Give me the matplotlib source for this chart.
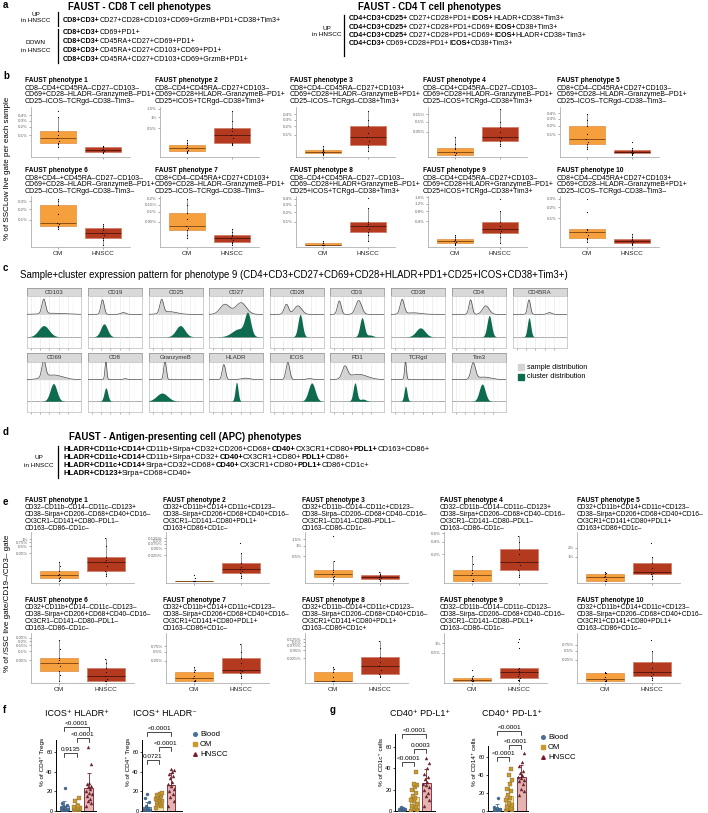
import numpy as np
import matplotlib
matplotlib.use('Agg')
import matplotlib.pyplot as plt
from matplotlib.lines import Line2D
from matplotlib.patches import Rectangle

plt.rcParams['font.family'] = ['Liberation Sans', 'DejaVu Sans']

W, H = 708, 813
fig = plt.figure(figsize=(W / 100, H / 100), dpi=100)
R = fig.canvas.get_renderer()

# ---------------- data ----------------
# panel a
cd8_up = ["*CD8+CD3+*CD27+CD28+CD103+CD69+GrzmB+PD1+CD38+Tim3+"]
cd8_down = ["*CD8+CD3+*CD69+PD1+",
            "*CD8+CD3+*CD45RA+CD27+CD69+PD1+",
            "*CD8+CD3+*CD45RA+CD27+CD103+CD69+PD1+",
            "*CD8+CD3+*CD45RA+CD27+CD103+CD69+GrzmB+PD1+"]
cd4_up = ["*CD4+CD3+CD25+*CD27+CD28+PD1+*ICOS+*HLADR+CD38+Tim3+",
          "*CD4+CD3+CD25+*CD27+CD28+PD1+CD69+*ICOS+*CD38+Tim3+",
          "*CD4+CD3+CD25+*CD27+CD28+PD1+CD69+*ICOS+*HLADR+CD38+Tim3+",
          "*CD4+CD3+*CD69+CD28+PD1+*ICOS+*CD38+Tim3+"]

# panel b
b_desc = [
    ["CD8–CD4+CD45RA–CD27–CD103–", "CD69+CD28–HLADR–GranzymeB–PD1+", "CD25–ICOS–TCRgd–CD38–Tim3–"],
    ["CD8–CD4+CD45RA–CD27+CD103–", "CD69+CD28+HLADR–GranzymeB–PD1+", "CD25+ICOS+TCRgd–CD38+Tim3+"],
    ["CD8+CD4–CD45RA–CD27+CD103+", "CD69+CD28+HLADR–GranzymeB+PD1+", "CD25–ICOS–TCRgd–CD38+Tim3+"],
    ["CD8–CD4+CD45RA–CD27–CD103–", "CD69+CD28+HLADR–GranzymeB–PD1+", "CD25–ICOS+TCRgd–CD38+Tim3+"],
    ["CD8+CD4–CD45RA+CD27+CD103–", "CD69+CD28–HLADR–GranzymeB–PD1+", "CD25–ICOS–TCRgd–CD38–Tim3–"],
    ["CD8+CD4–+CD45RA–CD27–CD103–", "CD69+CD28–HLADR–GranzymeB–PD1+", "CD25–ICOS–TCRgd–CD38–Tim3–"],
    ["CD8+CD4–CD45RA+CD27+CD103+", "CD69+CD28–HLADR–GranzymeB–PD1+", "CD25–ICOS–TCRgd–CD38–Tim3–"],
    ["CD8–CD4+CD45RA–CD27–CD103–", "CD69–CD28+HLADR+GranzymeB–PD1+", "CD25+ICOS+TCRgd–CD38+Tim3+"],
    ["CD8–CD4+CD45RA–CD27+CD103–", "CD69+CD28+HLADR+GranzymeB–PD1+", "CD25+ICOS+TCRgd–CD38+Tim3+"],
    ["CD8+CD4–CD45RA+CD27+CD103+", "CD69+CD28–HLADR–GranzymeB+PD1+", "CD25–ICOS–TCRgd–CD38–Tim3–"],
]
b_ticks = [[.1, .2, .3, .4], [.5, 1, 1.5], [.1, .2, .3, .4], [.05, .1, .15], [.1, .2, .3, .4],
           [.1, .2, .3], [.05, .1, .15, .2], [.1, .2, .3, .4], [.4, .8, 1.2, 1.6], [.1, .2, .3]]
b_top = [.58, 1.6, .55, .21, .53, .38, .22, .45, 1.7, .34]
b_om = [
    [.017, .03, .037, .05, .075, .1, .14, .36, .48],
    [.003, .008, .011, .02, .033, .05, .067, .1, .15],
    [0, .0005, .001, .002, .0023, .004, .0063, .01, .02],
    [0, 0, 0, .0005, .001, .003, .005, .012, .03],
    [.008, .015, .028, .04, .059, .1, .19, .28, .38],
    [.042, .05, .059, .07, .08, .15, .25, .3, .33],
    [.004, .01, .02, .028, .034, .06, .094, .15, .19],
    [0, 0, 0, 0, 0, 0, .0005, .001, .003],
    [0, .001, .003, .008, .013, .02, .03, .05, .065],
    [.0015, .005, .008, .015, .024, .03, .037, .15, .3],
]
b_hn = [
    [.001, .002, .003, .005, .007, .01, .018, .02, .022],
    [.067, .08, .096, .2, .27, .4, .52, .8, 1.35],
    [.004, .015, .025, .05, .082, .12, .197, .3, .47],
    [.0067, .012, .0176, .025, .03, .05, .07, .1, .19],
    [0, .0005, .001, .0015, .002, .004, .0057, .01, .039],
    [0, .004, .008, .015, .024, .035, .0475, .06, .07],
    [0, .0005, .001, .002, .004, .007, .01, .016, .023],
    [.003, .02, .034, .05, .066, .08, .1, .25, .41],
    [.003, .05, .1, .14, .18, .25, .36, .8, 1.5],
    [0, .0003, .0007, .0015, .0026, .004, .006, .01, .017],
]

# panel c  (peak location, height, width)
markers_row1 = ["CD103", "CD19", "CD25", "CD27", "CD28", "CD3", "CD38", "CD4", "CD45RA"]
markers_row2 = ["CD69", "CD8", "GranzymeB", "HLADR", "ICOS", "PD1", "TCRgd", "Tim3"]
sample_peaks = {
    "CD103": [(.35, .65, .05), (.6, .05, .3)],
    "CD19": [(.29, .65, .045), (.85, .08, .07)],
    "CD25": [(.24, .6, .05), (.45, .12, .2)],
    "CD27": [(.33, .45, .13), (.76, .52, .14)],
    "CD28": [(.34, .45, .06), (.65, .38, .1)],
    "CD3": [(.15, .6, .05), (.67, .62, .08)],
    "CD38": [(.2, .65, .055), (.5, .07, .2)],
    "CD4": [(.4, .65, .045), (.81, .38, .09)],
    "CD45RA": [(.33, .65, .04), (.88, .08, .06)],
    "CD69": [(.35, .8, .05), (.6, .22, .25)],
    "CD8": [(.38, .85, .025), (.9, .05, .05)],
    "GranzymeB": [(.33, .85, .035)],
    "HLADR": [(.3, .7, .045), (.88, .07, .12)],
    "ICOS": [(.38, .8, .05), (.96, .05, .08)],
    "PD1": [(.3, .55, .07), (.65, .25, .25)],
    "TCRgd": [(.29, .85, .025)],
    "Tim3": [(.47, .75, .06), (.75, .12, .2)],
}
cluster_peaks = {
    "CD103": [(.35, .5, .14)],
    "CD19": [(.33, .58, .09)],
    "CD25": [(.74, .5, .12)],
    "CD27": [(.94, .95, .08), (.7, .35, .18)],
    "CD28": [(.71, 1.0, .06)],
    "CD3": [(.76, .85, .06), (.97, .08, .08)],
    "CD38": [(.69, .4, .12)],
    "CD4": [(.9, .95, .06)],
    "CD45RA": [(.33, .85, .045)],
    "CD69": [(.61, .82, .09)],
    "CD8": [(.38, .62, .05)],
    "GranzymeB": [(.25, .38, .15)],
    "HLADR": [(.64, .88, .04)],
    "ICOS": [(1.02, .85, .09)],
    "PD1": [(.57, .85, .05), (.78, .1, .08)],
    "TCRgd": [(.29, .7, .04)],
    "Tim3": [(.71, .8, .08)],
}

# panel d
apc_up = ["*HLADR+CD11c+CD14+*CD11b+Sirpa+CD32+CD206+CD68+*CD40+*CX3CR1+CD80+*PDL1+*CD163+CD86+",
          "*HLADR+CD11c+CD14+*CD11b+Sirpa+CD32+*CD40+*CX3CR1+CD80+*PDL1+*CD86+",
          "*HLADR+CD11c+CD14+*Sirpa+CD32+CD68+*CD40+*CX3CR1+CD80+*PDL1+*CD86+CD1c+",
          "*HLADR+CD123+*Sirpa+CD68+CD40+"]

# panel e
e_desc = [
    ["CD32–CD11b–CD14–CD11c–CD123+", "CD38–Sirpa+CD206–CD68+CD40+CD16–", "CX3CR1–CD141+CD80–PDL1–", "CD163–CD86–CD1c–"],
    ["CD32+CD11b+CD14+CD11c+CD123–", "CD38–Sirpa+CD206+CD68+CD40+CD16–", "CX3CR1–CD141–CD80+PDL1+", "CD163+CD86+CD1c–"],
    ["CD32+CD11b–CD14–CD11c+CD123–", "CD38–Sirpa–CD206–CD68+CD40–CD16–", "CX3CR1–CD141–CD80–PDL1–", "CD163–CD86–CD1c–"],
    ["CD32–CD11b–CD14–CD11c–CD123+", "CD38–Sirpa+CD206–CD68+CD40–CD16–", "CX3CR1–CD141–CD80–PDL1–", "CD163–CD86–CD1c–"],
    ["CD32+CD11b+CD14+CD11c+CD123–", "CD38–Sirpa+CD206+CD68+CD40+CD16–", "CX3CR1+CD141+CD80+PDL1+", "CD163+CD86+CD1c–"],
    ["CD32+CD11b+CD14–CD11c–CD123–", "CD38–Sirpa+CD206+CD68+CD40–CD16–", "CX3CR1–CD141–CD80–PDL1–", "CD163–CD86–CD1c–"],
    ["CD32+CD11b+CD14+CD11c+CD123–", "CD38–Sirpa+CD206+CD68+CD40+CD16–", "CX3CR1+CD141+CD80+PDL1+", "CD163–CD86+CD1c–"],
    ["CD32+CD11b–CD14+CD11c+CD123–", "CD38–Sirpa+CD206–CD68+CD40+CD16–", "CX3CR1+CD141+CD80+PDL1+", "CD163–CD86+CD1c+"],
    ["CD32–CD11b–CD14–CD11c–CD123–", "CD38–Sirpa–CD206–CD68+CD40–CD16–", "CX3CR1–CD141–CD80–PDL1+", "CD163–CD86–CD1c–"],
    ["CD32+CD11b+CD14+CD11c+CD123–", "CD38–Sirpa+CD206–CD68+CD40+CD16–", "CX3CR1+CD141+CD80+PDL1+", "CD163–CD86+CD1c–"],
]
e_c = [.02, .0025, .2, .1, .25, .02, .1, .005, .1, .1]
e_ticks = [[.25, .5, .75, 1], [.025, .05, .075, .1, .125], [.5, 1, 1.5], [.2, .4, .6], [1, 2],
           [.05, .1, .15, .2, .25], [.25, .5, .75], [.025, .05, .075, .1, .125], [.5, 1], [.25, .5, .75]]
e_top = [2.0, .23, 2.24, .64, 6.0, .34, 1.8, .21, 2.0, 1.6]
e_om = [
    [0, .003, .0064, .01, .0149, .02, .030, .06, .1],
    [0, 0, 0, 0, 0, 0, 0, .0008, .0018],
    [0, .02, .044, .06, .084, .11, .147, .37, 1.8],
    [0, 0, 0, .01, .027, .04, .055, .1, .18],
    [0, 0, 0, .04, .074, .1, .14, .17, .2],
    [0, .008, .016, .03, .041, .05, .062, .12, .22],
    [0, 0, 0, .01, .02, .04, .072, .1, .13],
    [0, 0, 0, 0, 0, .002, .005, .008, .0097],
    [0, 0, 0, .004, .008, .012, .02, .04, .1],
    [0, 0, 0, .005, .01, .03, .06, .065, .07],
]
e_hn = [
    [.012, .02, .03, .06, .096, .13, .18, .5, 1.15],
    [.0008, .0015, .0027, .004, .0049, .007, .0103, .032, .084],
    [0, .01, .021, .03, .044, .055, .07, .09, .11],
    [.017, .03, .055, .09, .12, .2, .27, .4, .53],
    [.04, .1, .14, .17, .2, .35, .55, 1.0, 2.85],
    [0, 0, 0, .003, .0068, .015, .023, .04, .057],
    [.02, .04, .062, .08, .094, .2, .3, .5, .89],
    [.0018, .0025, .0036, .007, .011, .018, .027, .06, .11],
    [0, .005, .01, .02, .04, .06, .075, .09, .11, .125, .69, 1.12, 1.3],
    [.006, .02, .034, .05, .07, .12, .2, .48, 1.0],
]

# panels f, g
groups = ["Blood", "OM", "HNSCC"]
f1_vals = [[.5, 1, 1, 1.5, 2, 2, 3, 3, 4, 5, 6, 8, 23],
           [.5, 1, 1.5, 2, 2, 3, 3, 4, 5, 10, 13],
           [5, 8, 10, 12, 15, 17, 18, 20, 22, 24, 25, 27, 28, 48, 65]]
f2_vals = [[.2, .5, .5, 1, 1, 1.5, 2, 2, 3, 5, 9, 13, 17],
           [3, 5, 6, 8, 9, 10, 11, 12, 13, 14, 15, 16, 17, 18],
           [5, 10, 14, 17, 20, 22, 25, 27, 30, 34, 36, 38, 40, 42, 43]]
g1_vals = [[.2, .5, .5, 1, 1, 1.5, 2, 2, 3, 4],
           [0, 1, 2, 4, 5, 7, 9, 10, 12, 14, 17, 20, 22, 24, 25, 36],
           [5, 10, 14, 17, 20, 22, 24, 25, 27, 30, 32, 35, 40, 45, 50]]
g2_vals = [[.2, .5, 1, 1, 1.5, 2, 3, 5, 15],
           [0, 1, 2, 3, 5, 7, 9, 12, 15, 18, 22, 25, 30, 35, 40, 47],
           [18, 22, 25, 30, 33, 35, 37, 38, 40, 42, 45, 50, 55, 65]]
f1_p = [(0, 2, 85, "<0.0001"), (1, 2, 74, "<0.0001"), (0, 1, 59, "0.9135")]
f2_p = [(0, 2, 80, "<0.0001"), (1, 2, 65, "<0.0001"), (0, 1, 52, "0.0721")]
g1_p = [(0, 2, 72, "<0.0001"), (1, 2, 58, "0.0003"), (0, 1, 46, "<0.0001")]
g2_p = [(0, 2, 89, "<0.0001"), (1, 2, 73, "<0.0001"), (0, 1, 60, "<0.0001")]

OM_FILL, OM_EDGE, OM_MED = '#F5A03C', '#E49A55', '#7A4210'
HN_FILL, HN_EDGE, HN_MED = '#B3391F', '#D2806E', '#4E150B'
FG_COL = ['#46709E', '#C99A2E', '#7E1B2B']
FG_FILL = ['#C9D6E6', '#F4E4BA', '#E6B3B3']
FG_MK = ['o', 's', '^']
jit_box = [0, .01, -.01, .015, -.015, .005, -.005, .01, -.01, .0, .012, -.012, .006]
jit_fg = [-.22, .2, -.05, .12, -.15, .25, 0, -.25, .08, -.1, .18, -.18, .05, .22, -.02, .15]


# ---------------- helpers ----------------
def ax_px(x, y, w, h):
    return fig.add_axes([x / W, 1 - (y + h) / H, w / W, h / H])


def txt(x, y, s, **kw):
    kw.setdefault('va', 'center')
    return fig.text(x / W, 1 - y / H, s, **kw)


def rich(x, y, s, size):
    for k, part in enumerate(s.split('*')):
        if not part:
            continue
        t = txt(x, y, part, fontsize=size, fontweight='bold' if k % 2 else 'normal')
        x += t.get_window_extent(R).width


def vbar(x, y0, y1, lw=0.9):
    fig.add_artist(Line2D([x / W, x / W], [1 - y0 / H, 1 - y1 / H], color='k', lw=lw))


def sqrt_fns():
    return (lambda v: np.sign(v) * np.sqrt(np.abs(v)),
            lambda v: np.sign(v) * np.square(v))


def log_fns(c):
    return (lambda v: np.sign(v) * np.log1p(np.abs(v) / c),
            lambda v: np.sign(v) * c * np.expm1(np.abs(v)))


def box_panel(ax, om, hn, fns, ticks, top, show_x):
    fwd, inv = fns
    ax.set_yscale('function', functions=(fwd, inv))
    for pos, vals, fc, ec, mc in [(1, om, OM_FILL, OM_EDGE, OM_MED), (2, hn, HN_FILL, HN_EDGE, HN_MED)]:
        v = np.array(vals, dtype=float)
        t = fwd(v)
        q1, med, q3 = np.percentile(t, [25, 50, 75])
        iqr = q3 - q1
        hi = t[t <= q3 + 1.5 * iqr].max()
        lo = t[t >= q1 - 1.5 * iqr].min()
        st = dict(med=inv(med), q1=inv(q1), q3=inv(q3), whislo=inv(lo), whishi=inv(hi))
        ax.bxp([st], positions=[pos], widths=0.8, patch_artist=True, showfliers=False,
               showcaps=False,
               boxprops=dict(facecolor=fc, edgecolor=ec, lw=0.6),
               medianprops=dict(color=mc, lw=0.6),
               whiskerprops=dict(color='#444444', lw=0.4))
        ax.scatter(pos + np.array(jit_box[:len(v)]), v, s=0.7, c='k', lw=0, zorder=4)
    ax.set_ylim(inv(-0.04 * fwd(top)), top)
    ax.set_xlim(0.4, 2.6)
    ax.set_yticks(ticks)
    ax.set_yticklabels([f"{t:g}%" for t in ticks])
    ax.yaxis.set_minor_locator(matplotlib.ticker.NullLocator())
    ax.set_xticks([1, 2])
    ax.set_xticklabels(["OM", "HNSCC"] if show_x else ["", ""])
    ax.tick_params(axis='y', labelsize=3.2, length=1.2, width=0.4, pad=1, colors='#666666')
    ax.tick_params(axis='x', labelsize=4.6, length=1.2, width=0.4, pad=1.5, colors='#666666',
                   labelcolor='#222222')
    for s in ['top', 'right']:
        ax.spines[s].set_visible(False)
    for s in ['left', 'bottom']:
        ax.spines[s].set_color('#A0A0A0')
        ax.spines[s].set_linewidth(0.5)
    ax.set_facecolor('none')


def dot_bar(ax, vals_list, top, xlim, ylabel, pvals):
    for i, vals in enumerate(vals_list):
        v = np.array(vals, dtype=float)
        m, sd = v.mean(), v.std(ddof=1)
        ax.bar(i, m, width=0.72, color=FG_FILL[i], edgecolor=FG_COL[i], lw=0.6, zorder=1)
        ax.errorbar(i, m, yerr=[[0], [sd]], color=FG_COL[i], lw=0.6, capsize=1.6,
                    capthick=0.6, zorder=2)
        ax.scatter(i + np.array(jit_fg[:len(v)]), v, s=5, marker=FG_MK[i], color=FG_COL[i],
                   edgecolors='#333333', linewidths=0.15, zorder=3)
    for a, b, y, lab in pvals:
        ax.plot([a, a, b, b], [y - 4, y, y, y - 4], color='k', lw=0.5, clip_on=False)
        ax.text((a + b) / 2, y + 1, lab, ha='center', va='bottom', fontsize=4.6)
    ax.set_ylim(0, top)
    ax.set_xlim(*xlim)
    ax.set_yticks([0, 20, 40, 60])
    ax.set_xticks([])
    ax.spines['left'].set_bounds(0, 72)
    for s in ['top', 'right']:
        ax.spines[s].set_visible(False)
    for s in ['left', 'bottom']:
        ax.spines[s].set_linewidth(0.7)
    ax.tick_params(axis='y', labelsize=4, length=1.5, width=0.5, pad=1)
    ax.set_ylabel(ylabel, fontsize=4.6, labelpad=1)
    ax.set_facecolor('none')


# ---------------- panel labels ----------------
for lab, x, y in [('a', 3, 5), ('b', 3, 76), ('c', 3, 268), ('d', 3, 432), ('e', 3, 502),
                  ('f', 3, 710), ('g', 330, 710)]:
    txt(x, y, lab, fontsize=7, fontweight='bold')

# ---------------- panel a ----------------
txt(140, 7, "FAUST - CD8 T cell phenotypes", fontsize=6.9, fontweight='bold', ha='center')
txt(430, 7, "FAUST - CD4 T cell phenotypes", fontsize=6.9, fontweight='bold', ha='center')
txt(36, 14, "UP", fontsize=4.6, ha='center')
txt(36, 21, "in HNSCC", fontsize=4.6, ha='center')
vbar(58, 12, 26)
for i, s in enumerate(cd8_up):
    rich(63, 20 + 8.5 * i, s, 5.1)
txt(36, 42, "DOWN", fontsize=4.6, ha='center')
txt(36, 50, "in HNSCC", fontsize=4.6, ha='center')
vbar(58, 29, 63)
for i, s in enumerate(cd8_down):
    rich(63, 33 + 8.7 * i, s, 5.1)
txt(327, 28, "UP", fontsize=4.6, ha='center')
txt(327, 35, "in HNSCC", fontsize=4.6, ha='center')
vbar(344, 15, 56)
for i, s in enumerate(cd4_up):
    rich(349, 19 + 8.1 * i, s, 5.1)

# ---------------- panel b ----------------
b_tx = [25, 155, 290, 423, 557]
b_ax = [31, 160, 296, 428, 560]
b_rows = [(81, 107, 50), (171, 196, 51)]
for k in range(10):
    r, c = divmod(k, 5)
    ty, ay, ah = b_rows[r]
    txt(b_tx[c], ty, f"FAUST phenotype {k + 1}", fontsize=4.8, fontweight='bold')
    for j, line in enumerate(b_desc[k]):
        txt(b_tx[c], ty + 7 + 6.7 * j, line, fontsize=5.0)
    ax = ax_px(b_ax[c], ay, 99, ah)
    box_panel(ax, b_om[k], b_hn[k], sqrt_fns(), b_ticks[k], b_top[k], r == 1)
txt(8, 168, "% of SSCLow live gate per each sample", fontsize=5.8, rotation=90, ha='center')

# ---------------- panel c ----------------
txt(20, 275, "Sample+cluster expression pattern for phenotype 9 "
             "(CD4+CD3+CD27+CD69+CD28+HLADR+PD1+CD25+ICOS+CD38+Tim3+)", fontsize=6.9)
xs = np.linspace(-0.1, 1.35, 400)


def dens(peaks):
    return sum(h * np.exp(-0.5 * ((xs - m) / s) ** 2) for m, h, s in peaks)


facet_x = [27, 88, 149, 209, 270, 330, 391, 452, 513]
for markers, sy, by, bh in [(markers_row1, 288, 296, 52), (markers_row2, 353, 362, 50)]:
    for i, mk in enumerate(markers):
        x0 = facet_x[i]
        st = ax_px(x0, sy, 54, by - sy)
        st.set_facecolor('#D9D9D9')
        st.set_xticks([])
        st.set_yticks([])
        for sp in st.spines.values():
            sp.set_color('#8C8C8C')
            sp.set_linewidth(0.5)
        st.text(0.5, 0.5, mk, ha='center', va='center', fontsize=4.3, color='#333333',
                transform=st.transAxes)
        ax = ax_px(x0, by, 54, bh)
        ds = dens(sample_peaks[mk])
        dc = dens(cluster_peaks[mk])
        ax.axhline(0, color='#8A8A8A', lw=0.5, zorder=1)
        ax.fill_between(xs, 1, 1 + ds, color='#D3D3D3', lw=0, zorder=2)
        ax.plot(xs, 1 + ds, color='#4A4A4A', lw=0.5, zorder=3)
        ax.fill_between(xs, 0, dc, color='#0E6B4F', lw=0, zorder=4)
        ax.set_xlim(-0.1, 1.35)
        ax.set_ylim(-0.5, 1.82)
        ax.set_xticks([0, .25, .5, .75, 1])
        ax.set_xticks([.125, .375, .625, .875, 1.125], minor=True)
        ax.set_yticks([])
        ax.grid(axis='x', which='major', color='#E4E4E4', lw=0.4, zorder=0)
        ax.grid(axis='x', which='minor', color='#F0F0F0', lw=0.3, zorder=0)
        ax.tick_params(axis='x', which='major', length=1.5, width=0.4, colors='#777777',
                       labelbottom=False)
        ax.tick_params(axis='x', which='minor', length=0)
        for sp in ax.spines.values():
            sp.set_color('#BBBBBB')
            sp.set_linewidth(0.5)
for yy, col, lab in [(367, '#D3D3D3', "sample distribution"),
                     (377, '#0E6B4F', "cluster distribution")]:
    fig.add_artist(Rectangle((518 / W, 1 - (yy + 3) / H), 6 / W, 6 / H, color=col,
                             transform=fig.transFigure))
    txt(527, yy, lab, fontsize=5.2)

# ---------------- panel d ----------------
txt(185, 437, "FAUST - Antigen-presenting cell (APC) phenotypes", fontsize=6.9,
    fontweight='bold', ha='center')
txt(39, 457, "UP", fontsize=4.6, ha='center')
txt(39, 465, "in HNSCC", fontsize=4.6, ha='center')
vbar(58, 446, 478)
for i, s in enumerate(apc_up):
    rich(63, 449 + 8.3 * i, s, 5.5)

# ---------------- panel e ----------------
e_tx = [25, 163, 302, 440, 577]
e_ax = [31, 166, 305, 444, 577]
e_rows = [(500, 532, 51), (600, 633, 50)]
for k in range(10):
    r, c = divmod(k, 5)
    ty, ay, ah = e_rows[r]
    txt(e_tx[c], ty, f"FAUST phenotype {k + 1}", fontsize=4.8, fontweight='bold')
    for j, line in enumerate(e_desc[k]):
        txt(e_tx[c], ty + 7 + 7.2 * j, line, fontsize=4.8)
    ax = ax_px(e_ax[c], ay, 103, ah)
    box_panel(ax, e_om[k], e_hn[k], log_fns(e_c[k]), e_ticks[k], e_top[k], r == 1)
txt(8, 603, "% of /SSC live gate/CD19–/CD3– gate", fontsize=5.8, rotation=90, ha='center')

# ---------------- panels f, g ----------------
txt(77, 713, "ICOS⁺ HLADR⁺", fontsize=6.4, ha='center')
txt(165, 713, "ICOS⁺ HLADR⁻", fontsize=6.4, ha='center')
txt(420, 713, "CD40⁺ PD-L1⁺", fontsize=6.4, ha='center')
txt(512, 713, "CD40⁺ PD-L1⁺", fontsize=6.4, ha='center')

ax = ax_px(56, 713, 40, 98)
dot_bar(ax, f1_vals, 99.7, (-0.7, 2.6), "% of CD4⁺ Tregs", f1_p)
ax = ax_px(142, 713, 40, 98)
dot_bar(ax, f2_vals, 99.7, (-0.4, 2.9), "% of CD4⁺ Tregs", f2_p)
ax = ax_px(395, 713, 40, 98)
dot_bar(ax, g1_vals, 91.6, (-0.58, 2.72), "% of CD1c⁺ cells", g1_p)
ax = ax_px(488, 713, 40, 98)
dot_bar(ax, g2_vals, 109, (-0.74, 2.56), "% of CD14⁺ cells", g2_p)

for lx, ly in [(195, 734), (543, 737)]:
    for i, g in enumerate(groups):
        yy = ly + 10 * i
        fig.add_artist(Line2D([lx / W], [1 - yy / H], marker=FG_MK[i], color=FG_COL[i],
                              markersize=2.6, lw=0, transform=fig.transFigure))
        txt(lx + 5, yy, g, fontsize=5.6)

fig.savefig('out.png', dpi=100)
